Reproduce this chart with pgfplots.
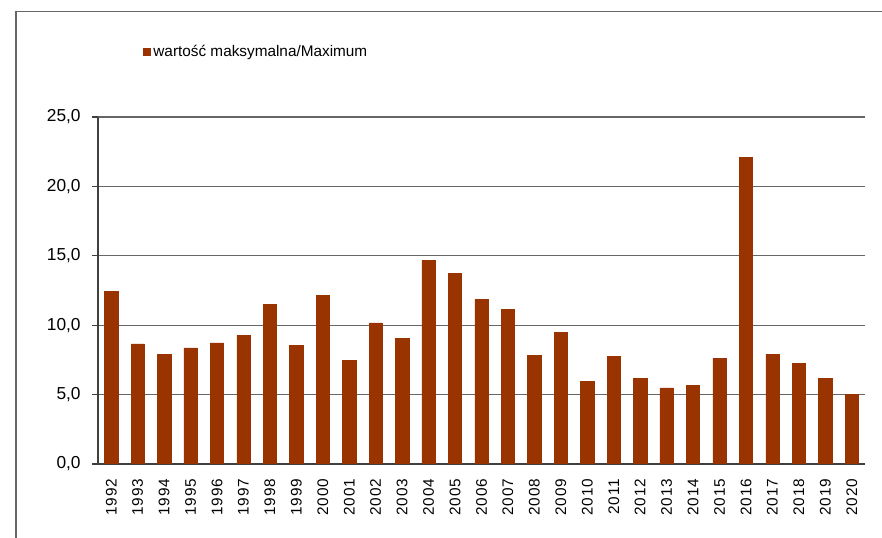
\documentclass[border=0pt]{standalone}
\usepackage{pgfplots}
\pgfplotsset{compat=1.18}
\usepackage{fontspec}
\setmainfont{Liberation Sans}

\definecolor{barcol}{RGB}{153,51,0}

\pgfplotstableread{
idx year val
0  1992 12.45
1  1993 8.66
2  1994 7.92
3  1995 8.37
4  1996 8.73
5  1997 9.26
6  1998 11.49
7  1999 8.52
8  2000 12.16
9  2001 7.49
10 2002 10.17
11 2003 9.05
12 2004 14.66
13 2005 13.72
14 2006 11.85
15 2007 11.13
16 2008 7.85
17 2009 9.48
18 2010 5.93
19 2011 7.77
20 2012 6.17
21 2013 5.49
22 2014 5.64
23 2015 7.63
24 2016 22.07
25 2017 7.92
26 2018 7.25
27 2019 6.17
28 2020 5.04
}\maxdata

\begin{document}
\begin{tikzpicture}
  % 1px = 0.75pt, picture 882x538 px
  \useasboundingbox (0,0) rectangle (661.5pt,403.5pt);
  \draw[gray!80!black, line width=1.1pt] (12pt,0) -- (12pt,394.7pt) -- (661.5pt,394.7pt);
  \begin{axis}[
      at={(73.5pt,55.5pt)}, anchor=south west,
      scale only axis,
      width=575.25pt, height=260.25pt,
      xmin=-0.5, xmax=28.5,
      ymin=0, ymax=25,
      axis lines*=left,
      axis line style={black!75, line width=0.8pt},
      ytick={0,5,...,25},
      ymajorgrids,
      grid style={gray!80!black, line width=0.8pt},
      tick align=outside,
      major tick length=4.5pt,
      tick style={black!75, line width=0.8pt},
      xtick=data,
      xticklabels from table={\maxdata}{year},
      xtick style={draw=none},
      extra x ticks={-0.5,0.5,...,28.5},
      extra x tick labels={},
      extra x tick style={grid=none, tick style={draw=black!75, line width=0.8pt}},
      xticklabel style={rotate=90, anchor=east, font=\fontsize{11.5}{12}\selectfont\addfontfeature{LetterSpace=6}, xshift=-3pt},
      yticklabel style={font=\fontsize{13}{14}\selectfont, xshift=-5pt},
      /pgf/number format/.cd, fixed, fixed zerofill, precision=1, use comma, assume math mode=true,
      /pgfplots/.cd,
      ybar, bar width=10pt,
      legend style={at={(0.0587,1.187)}, anchor=west, draw=none, fill=none,
        font=\fontsize{11.5}{12}\selectfont, inner sep=0pt},
      legend image code/.code={\fill[barcol] (0pt,-2.6pt) rectangle (5.2pt,2.6pt);},
    ]
    \addplot[fill=barcol, draw=barcol] table[x=idx, y=val] {\maxdata};
    \legend{wartość maksymalna/Maximum}
  \end{axis}
\end{tikzpicture}
\end{document}
